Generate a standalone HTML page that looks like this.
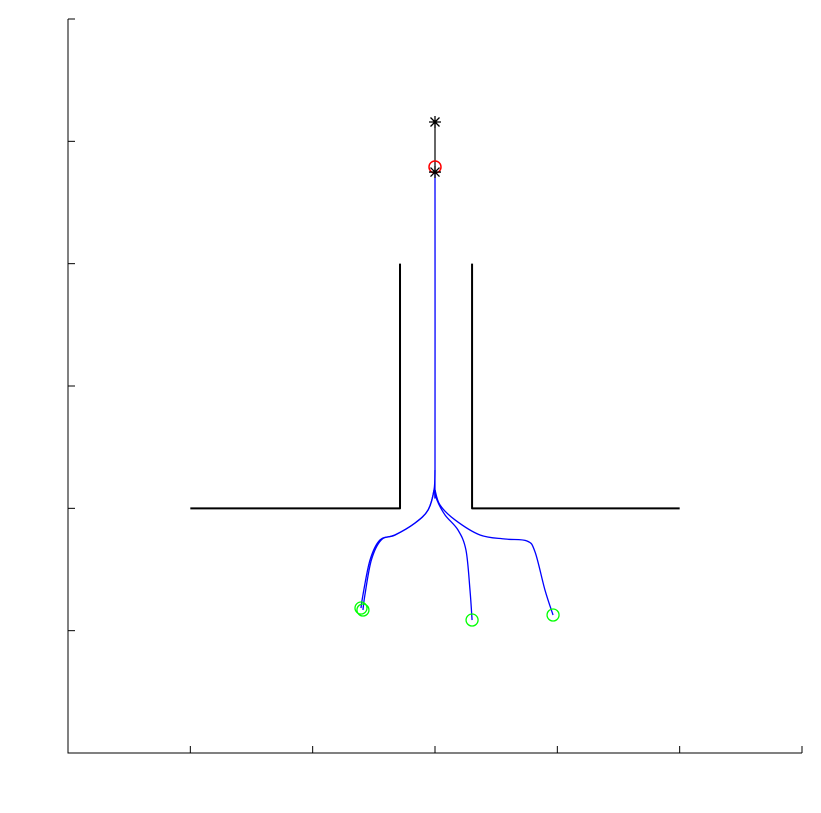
<!DOCTYPE html>
<html><head><meta charset="utf-8"><style>body{margin:0;background:#fff}svg{display:block}</style></head>
<body>
<svg id="chart" width="821" height="813" xmlns="http://www.w3.org/2000/svg"></svg>
<script>
const xTicks=[0,1,2,3,4,5,6];
const yTicks=[0,1,2,3,4,5,6];
const wallLeftX=[1,2.714,2.714];
const wallLeftY=[2,2,4];
const wallRightX=[5,3.303,3.303];
const wallRightY=[2,2,4];
const path1X=[2.395,2.411,2.469,2.550,2.673,2.837,2.943,2.992,3.0,3.0];
const path1Y=[1.185,1.292,1.578,1.741,1.782,1.880,1.986,2.150,2.313,4.749];
const path1bX=[2.411,2.427,2.480,2.560,2.673,2.837,2.943,2.992,3.0];
const path1bY=[1.169,1.292,1.578,1.741,1.782,1.880,1.986,2.150,2.313];
const path2X=[3.965,3.899,3.818,3.752,3.572,3.368,3.164,3.041,3.0];
const path2Y=[1.128,1.332,1.643,1.733,1.749,1.782,1.905,2.027,2.150];
const path3X=[3.303,3.286,3.253,3.188,3.082,3.016,3.0];
const path3Y=[1.087,1.332,1.659,1.823,1.946,2.068,2.150];
const startX=[2.395,2.411,3.303,3.965];
const startY=[1.185,1.169,1.087,1.128];
const goalX=[3.0], goalY=[4.790];
const starX=[3.0,3.0], starY=[5.158,4.749];

const L=68,R=802,B=753,T=19;
const sx=v=>L+(R-L)*v/6, sy=v=>B-(B-T)*v/6;
const svg=document.getElementById('chart');
const NS='http://www.w3.org/2000/svg';
function mk(tag,attrs){const e=document.createElementNS(NS,tag);for(const k in attrs)e.setAttribute(k,attrs[k]);svg.appendChild(e);return e;}
let e=mk('path',{d:`M${L},${T}V${B}H${R}`,fill:'none',stroke:'#000','stroke-width':1});


xTicks.forEach(t=>{const x=sx(t);const k=mk('line',{x1:x,x2:x,y1:B,y2:B-7,stroke:'#000'});

});
yTicks.forEach(t=>{const y=sy(t);const k=mk('line',{x1:L,x2:L+7,y1:y,y2:y,stroke:'#000'});

});
function poly(xs,ys,color,w,name){const p=mk('polyline',{points:xs.map((x,i)=>sx(x)+','+sy(ys[i])).join(' '),fill:'none',stroke:color,'stroke-width':w,'stroke-linejoin':'round'});

}
function smooth(xs,ys,color,w,name){
  const P=xs.map((x,i)=>[sx(x),sy(ys[i])]);
  let d=`M${P[0][0]},${P[0][1]}`;
  for(let i=0;i<P.length-1;i++){
    const p0=P[Math.max(i-1,0)],p1=P[i],p2=P[i+1],p3=P[Math.min(i+2,P.length-1)];
    const c1=[p1[0]+(p2[0]-p0[0])/6,p1[1]+(p2[1]-p0[1])/6];
    const c2=[p2[0]-(p3[0]-p1[0])/6,p2[1]-(p3[1]-p1[1])/6];
    d+=`C${c1[0]},${c1[1]} ${c2[0]},${c2[1]} ${p2[0]},${p2[1]}`;
  }
  const p=mk('path',{d:d,fill:'none',stroke:color,'stroke-width':w});
  
  
}
poly(wallLeftX,wallLeftY,'#000',2,'left-wall');
poly(wallRightX,wallRightY,'#000',2,'right-wall');
poly(starX,starY,'#000',1.2,'goal-line');
smooth(path1X,path1Y,'#00f',1.3,'path-left');
smooth(path1bX,path1bY,'#00f',1.3,'path-left-2');
smooth(path2X,path2Y,'#00f',1.3,'path-right');
smooth(path3X,path3Y,'#00f',1.3,'path-middle');
startX.forEach((x,i)=>{const c=mk('circle',{cx:sx(x),cy:sy(startY[i]),r:6,fill:'none',stroke:'#0f0','stroke-width':1.3});

});
goalX.forEach((x,i)=>{const c=mk('circle',{cx:sx(x),cy:sy(goalY[i]),r:6,fill:'none',stroke:'#f00','stroke-width':1.5});

});
starX.forEach((x,i)=>{const cx=sx(x),cy=sy(starY[i]);const g=mk('path',{d:`M${cx-6},${cy}H${cx+6}M${cx},${cy-6}V${cy+6}M${cx-4.5},${cy-4.5}L${cx+4.5},${cy+4.5}M${cx-4.5},${cy+4.5}L${cx+4.5},${cy-4.5}`,stroke:'#000','stroke-width':1.3});

});
</script>
</body></html>
